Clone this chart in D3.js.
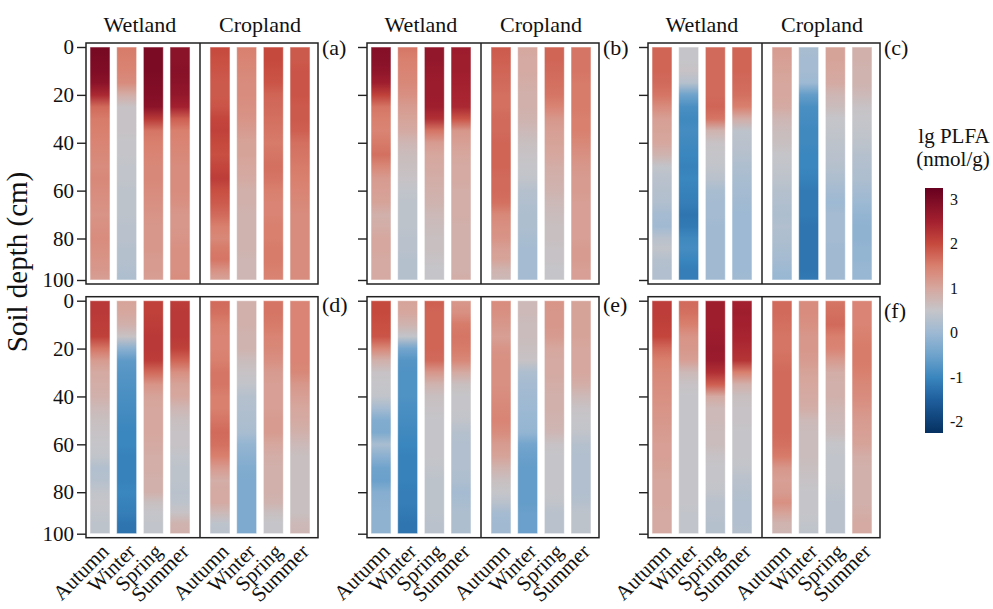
<!DOCTYPE html>
<html>
<head>
<meta charset="utf-8">
<title>lg PLFA by soil depth</title>
<style>
  body { margin: 0; background: #fff; }
  svg { display: block; font-family: "Liberation Serif", "Times New Roman", serif; }
</style>
</head>
<body>
<script src="https://cdn.jsdelivr.net/npm/d3@7"></script>
<svg id="chart" width="993" height="609"></svg>
<script>

// categories
var seasons = ["Autumn", "Winter", "Spring", "Summer"];
var landUses = ["Wetland", "Cropland"];
var panelNames = ["(a)", "(b)", "(c)", "(d)", "(e)", "(f)"];
var depths = [0, 5, 10, 15, 20, 25, 30, 35, 40, 45, 50, 55, 60, 65, 70, 75, 80, 85, 90, 95, 100];
var depthTicks = [0, 20, 40, 60, 80, 100];
var legendTicks = [3, 2, 1, 0, -1, -2];

// colour scale (lg PLFA)
var colorStops = [-2.25, -1.5, -1, -0.5, 0, 0.5, 1, 1.5, 2, 2.5, 3.25];
var colorRange = ["#053061", "#1f5f9e", "#3a86be", "#6fa3cc", "#9db9d3", "#c5c5c9",
                  "#d6a79e", "#d9806f", "#c6493d", "#a3202f", "#67001f"];

// each panel: 8 columns (Wetland Autumn..Summer, Cropland Autumn..Summer), values per depth
var panelA = [
  [3.05,3.0,2.95,2.8,2.4,1.7,1.55,1.5,1.45,1.4,1.35,1.4,1.35,1.3,1.25,1.3,1.35,1.3,1.25,1.2,1.1],
  [1.55,1.5,1.45,1.35,0.9,0.55,0.55,0.55,0.5,0.5,0.45,0.45,0.4,0.4,0.4,0.35,0.35,0.3,0.3,0.25,0.2],
  [3.0,3.0,3.0,2.95,2.9,2.8,2.2,1.6,1.5,1.45,1.4,1.4,1.35,1.3,1.25,1.2,1.2,1.2,1.15,1.15,1.1],
  [2.8,2.8,2.85,2.8,2.7,2.5,1.8,1.5,1.45,1.4,1.35,1.35,1.35,1.3,1.2,1.2,1.25,1.3,1.3,1.3,1.35],
  [2.0,1.95,1.9,1.85,1.85,1.9,2.05,2.1,2.0,1.95,2.05,2.15,1.95,1.85,1.7,1.5,1.4,1.55,1.6,1.3,1.05],
  [1.5,1.45,1.4,1.35,1.35,1.3,1.25,1.15,1.05,1.05,1.0,0.95,0.85,0.85,0.8,0.8,0.8,0.8,0.75,0.75,0.75],
  [2.0,2.0,1.95,1.9,1.75,1.7,1.65,1.6,1.55,1.6,1.65,1.6,1.5,1.45,1.45,1.5,1.5,1.55,1.55,1.5,1.45],
  [1.85,1.85,1.9,1.9,1.9,1.85,1.85,1.8,1.65,1.6,1.55,1.5,1.45,1.4,1.35,1.35,1.35,1.35,1.35,1.35,1.35]
];
var panelB = [
  [2.9,2.85,2.75,2.55,2.1,1.6,1.5,1.45,1.55,1.65,1.4,1.15,1.1,1.05,0.85,0.9,1.0,1.0,0.95,0.95,0.95],
  [1.6,1.5,1.45,1.4,1.3,1.15,1.05,0.95,0.75,0.65,0.6,0.55,0.45,0.4,0.4,0.4,0.35,0.35,0.3,0.3,0.3],
  [2.7,2.7,2.65,2.6,2.6,2.55,2.3,1.6,1.15,1.0,0.95,0.9,0.85,0.8,0.7,0.65,0.6,0.6,0.55,0.5,0.5],
  [2.6,2.55,2.55,2.5,2.45,2.4,1.9,1.2,1.1,1.0,0.95,0.95,0.9,0.9,0.9,0.85,0.85,0.85,0.85,0.85,0.9],
  [1.85,1.8,1.75,1.7,1.65,1.65,1.7,1.7,1.75,1.75,1.75,1.7,1.7,1.65,1.4,1.3,1.25,1.1,1.05,0.8,0.7],
  [1.0,0.95,0.95,0.9,0.85,0.85,0.8,0.7,0.6,0.55,0.5,0.45,0.3,0.25,0.2,0.2,0.15,0.1,0.1,0.1,0.1],
  [1.75,1.75,1.7,1.65,1.6,1.45,1.2,1.1,1.05,1.0,0.9,0.85,0.8,0.7,0.65,0.6,0.6,0.55,0.55,0.5,0.5],
  [1.6,1.6,1.6,1.55,1.55,1.55,1.5,1.5,1.4,1.3,1.2,1.15,1.15,1.1,1.1,1.1,1.1,1.15,1.15,1.1,1.1]
];
var panelC = [
  [1.75,1.75,1.75,1.7,1.6,1.35,1.1,1.05,1.0,0.8,0.45,0.35,0.3,0.25,0.1,0.05,0.35,0.45,0.3,0.25,0.25],
  [0.5,0.5,0.55,0.3,-0.5,-0.85,-0.95,-0.9,-0.95,-1.0,-1.05,-1.0,-1.05,-1.1,-1.2,-1.15,-0.95,-0.9,-1.0,-1.1,-1.1],
  [1.7,1.7,1.7,1.7,1.7,1.75,1.6,0.8,0.55,0.5,0.45,0.35,0.15,0.1,0.1,0.05,0.05,0.05,0.05,0.05,0.05],
  [1.75,1.75,1.75,1.7,1.65,1.5,0.9,0.4,0.35,0.3,0.2,0.15,0.1,0.05,0.0,0.0,0.0,0.0,0.0,0.0,0.05],
  [1.15,1.1,1.05,1.0,1.0,0.95,0.75,0.65,0.6,0.5,0.45,0.4,0.3,0.25,0.2,0.25,0.2,0.15,0.1,0.0,-0.05],
  [0.15,0.1,0.1,0.0,-0.6,-0.85,-0.9,-0.95,-0.95,-1.0,-1.0,-1.05,-1.15,-1.15,-1.15,-1.2,-1.2,-1.2,-1.2,-1.2,-1.15],
  [1.05,1.05,1.0,0.95,0.75,0.65,0.5,0.45,0.4,0.35,0.3,0.2,0.1,0.0,0.1,0.1,0.1,0.05,0.05,0.05,0.05],
  [0.85,0.85,0.8,0.8,0.7,0.55,0.5,0.45,0.4,0.3,0.25,0.2,0.1,0.0,-0.1,-0.15,-0.15,-0.1,-0.1,-0.05,-0.05]
];
var panelD = [
  [2.2,2.2,2.15,2.1,1.6,1.15,0.95,0.9,0.85,0.7,0.6,0.55,0.5,0.45,0.25,0.3,0.45,0.5,0.45,0.4,0.4],
  [1.05,1.0,0.85,0.55,-0.2,-0.65,-0.75,-0.8,-0.85,-0.9,-0.95,-1.0,-1.0,-1.05,-1.05,-1.05,-1.0,-1.05,-1.1,-1.2,-1.25],
  [2.1,2.1,2.15,2.2,2.2,2.15,1.7,1.25,1.05,1.0,1.0,1.0,0.95,0.9,0.9,0.85,0.85,0.6,0.5,0.45,0.45],
  [2.15,2.2,2.2,2.2,2.1,1.75,1.3,1.05,1.0,0.75,0.6,0.55,0.55,0.45,0.4,0.4,0.35,0.4,0.55,0.8,0.85],
  [1.7,1.65,1.5,1.45,1.45,1.5,1.6,1.6,1.5,1.5,1.6,1.7,1.65,1.5,1.15,0.9,0.95,0.95,0.7,0.4,0.35],
  [0.85,0.85,0.85,0.8,0.8,0.65,0.55,0.45,0.3,0.25,0.2,0.15,-0.1,-0.2,-0.3,-0.35,-0.35,-0.35,-0.35,-0.35,-0.35],
  [1.6,1.6,1.55,1.45,1.4,1.3,1.15,1.1,1.1,1.1,1.15,1.15,1.0,0.9,0.85,0.85,0.85,0.8,0.6,0.5,0.5],
  [1.45,1.45,1.45,1.45,1.45,1.45,1.4,1.2,1.1,1.0,0.95,0.85,0.7,0.6,0.6,0.6,0.6,0.6,0.6,0.7,0.75]
];
var panelE = [
  [2.0,2.0,1.95,1.9,1.4,0.85,0.55,0.5,0.45,0.1,-0.3,-0.35,0.15,-0.2,-0.5,-0.55,-0.25,-0.2,-0.15,-0.15,-0.15],
  [1.05,1.0,0.8,0.45,-0.45,-0.75,-0.8,-0.8,-0.8,-0.85,-0.9,-0.95,-1.0,-1.05,-1.05,-1.05,-1.1,-1.1,-1.15,-1.2,-1.2],
  [1.8,1.75,1.75,1.75,1.75,1.7,1.2,0.8,0.6,0.55,0.5,0.5,0.5,0.5,0.45,0.4,0.4,0.4,0.4,0.35,0.35],
  [1.2,1.3,1.55,1.6,1.55,1.4,0.95,0.6,0.5,0.5,0.45,0.3,0.25,0.25,0.25,0.2,0.1,0.15,0.2,0.2,0.2],
  [1.35,1.3,1.2,1.1,1.25,1.3,1.3,1.3,1.35,1.4,1.45,1.35,1.15,1.05,0.8,0.6,0.5,0.35,0.1,0.05,0.05],
  [0.7,0.7,0.65,0.65,0.6,0.55,0.2,0.1,0.05,0.0,-0.05,-0.1,-0.45,-0.55,-0.6,-0.6,-0.6,-0.6,-0.55,-0.55,-0.55],
  [1.25,1.2,1.2,1.15,1.0,0.95,0.95,0.9,0.85,0.85,0.8,0.75,0.55,0.5,0.5,0.5,0.5,0.45,0.35,0.35,0.35],
  [1.05,1.05,1.05,1.05,1.0,1.0,1.0,0.9,0.7,0.55,0.5,0.45,0.3,0.25,0.25,0.25,0.25,0.3,0.4,0.4,0.4]
];
var panelF = [
  [2.15,2.15,2.1,2.05,1.7,1.5,1.4,1.35,1.3,1.25,1.2,1.15,1.1,1.1,1.05,1.0,1.0,1.0,0.95,0.95,0.95],
  [1.7,1.65,1.5,1.25,1.2,1.1,0.7,0.55,0.5,0.5,0.5,0.5,0.5,0.5,0.5,0.5,0.5,0.5,0.45,0.45,0.45],
  [2.55,2.55,2.55,2.6,2.65,2.6,2.3,1.8,0.95,0.7,0.7,0.65,0.65,0.55,0.5,0.5,0.45,0.35,0.35,0.3,0.3],
  [2.5,2.55,2.5,2.45,2.35,2.25,1.5,0.85,0.6,0.55,0.55,0.5,0.5,0.5,0.45,0.35,0.3,0.25,0.25,0.25,0.3],
  [1.7,1.7,1.65,1.6,1.6,1.65,1.7,1.7,1.7,1.7,1.7,1.7,1.65,1.55,1.2,1.1,1.15,1.3,1.05,0.8,0.75],
  [1.35,1.35,1.3,1.2,1.2,1.15,1.05,1.0,0.95,0.9,0.7,0.65,0.65,0.65,0.6,0.55,0.5,0.5,0.5,0.45,0.4],
  [1.6,1.65,1.7,1.5,1.45,1.15,0.9,0.85,0.85,0.75,0.7,0.65,0.5,0.45,0.45,0.45,0.4,0.35,0.35,0.35,0.35],
  [1.45,1.45,1.45,1.5,1.55,1.55,1.5,1.4,1.35,1.25,1.15,1.1,1.05,0.9,0.85,0.85,0.85,0.85,0.9,0.95,0.95]
];

var panels = [panelA, panelB, panelC, panelD, panelE, panelF];

// layout
var panelLeft = [86, 367, 648];
var rowTop = [47, 300.7];
var panelW = 232;
var labelDy = [12, 12, 12, 15, 15, 21];
var ink = "#222";

var svg = d3.select("#chart");
var defs = svg.append("defs");

var color = d3.scaleLinear().domain(colorStops).range(colorRange).clamp(true);

// x positions: two facets of 4 seasons, gap between them
var colPos = [1, 2, 3, 4, 5.5, 6.5, 7.5, 8.5];
var x = d3.scaleLinear().domain([0.475, 9.175]).range([0, panelW]);
var stripW = x(1.75) - x(1);
var y = d3.scaleLinear().domain([0, 80, 100]).range([0, 191.5, 233]);

panels.forEach(function(data, i) {
  var row = Math.floor(i / 3), col = i % 3;
  var g = svg.append("g")
    .attr("transform", "translate(" + panelLeft[col] + "," + rowTop[row] + ")");

  data.forEach(function(vals, j) {
    var id = "grad" + i + "_" + j;
    defs.append("linearGradient")
      .attr("id", id)
      .attr("x1", 0).attr("y1", 0).attr("x2", 0).attr("y2", 1)
      .selectAll("stop")
      .data(vals)
      .join("stop")
      .attr("offset", function(v, k) { return y(depths[k]) / y(100); })
      .attr("stop-color", function(v) { return color(v); });

    g.append("rect")
      .attr("x", x(colPos[j]) - stripW / 2)
      .attr("y", y(0))
      .attr("width", stripW)
      .attr("height", y(100) - y(0))
      .attr("fill", "url(#" + id + ")")
      .attr("stroke", "#fff")
      .attr("stroke-opacity", 0.55)
      .attr("stroke-width", 1);
  });

  // frame + facet divider
  g.append("rect")
    .attr("x", 0).attr("y", y(0) - 4)
    .attr("width", panelW).attr("height", y(100) - y(0) + 8)
    .attr("fill", "none").attr("stroke", ink).attr("stroke-width", 1.5);
  g.append("line")
    .attr("x1", x(4.75)).attr("x2", x(4.75))
    .attr("y1", y(0) - 4).attr("y2", y(100) + 4)
    .attr("stroke", ink).attr("stroke-width", 1.5);

  // depth axis
  var ax = g.append("g")
    .call(d3.axisLeft(y).tickValues(depthTicks).tickSize(9).tickPadding(3)
      .tickFormat(col === 0 ? function(d) { return d; } : ""));
  ax.select(".domain").remove();
  ax.selectAll("line").attr("stroke", ink).attr("stroke-width", 1.4);
  ax.selectAll("text")
    .attr("fill", "#111")
    .style("font-family", "Liberation Serif")
    .style("font-size", "21px");

  // panel label
  g.append("text")
    .attr("x", panelW + 4)
    .attr("y", y(0) - 4 + labelDy[i])
    .attr("fill", "#111")
    .style("font-size", "22px")
    .text(panelNames[i]);

  // facet headers on the top row
  if (row === 0) {
    g.selectAll(".facet")
      .data(landUses)
      .join("text")
      .attr("class", "facet")
      .attr("x", function(d, k) { return x(k === 0 ? 2.5 : 7); })
      .attr("y", -15)
      .attr("text-anchor", "middle")
      .attr("fill", "#111")
      .style("font-size", "22px")
      .text(function(d) { return d; });
  }

  // season labels on the bottom row
  if (row === 1) {
    g.selectAll(".season")
      .data(colPos)
      .join("text")
      .attr("class", "season")
      .attr("transform", function(p) {
        return "translate(" + x(p) + "," + (y(100) + 9) + ") rotate(-45)";
      })
      .attr("dy", "0.68em")
      .attr("text-anchor", "end")
      .attr("fill", "#111")
      .style("font-size", "21px")
      .text(function(p, k) { return seasons[k % 4]; });
  }
});

// y title
svg.append("text")
  .attr("transform", "translate(27,262) rotate(-90)")
  .attr("text-anchor", "middle")
  .attr("fill", "#111")
  .style("font-size", "29px")
  .text("Soil depth (cm)");

// colour bar
var ly = d3.scaleLinear().domain([-2.25, 3.25]).range([433, 188]);
defs.append("linearGradient")
  .attr("id", "legendGrad")
  .attr("x1", 0).attr("y1", 0).attr("x2", 0).attr("y2", 1)
  .selectAll("stop")
  .data(colorStops.slice().reverse())
  .join("stop")
  .attr("offset", function(s) { return (ly(s) - 188) / (433 - 188); })
  .attr("stop-color", function(s) { return color(s); });

svg.append("rect")
  .attr("x", 925).attr("y", 188)
  .attr("width", 18).attr("height", 245)
  .attr("fill", "url(#legendGrad)");

var lax = svg.append("g")
  .attr("transform", "translate(943,0)")
  .call(d3.axisRight(ly).tickValues(legendTicks).tickSize(0).tickPadding(7)
    .tickFormat(function(d) { return String(d); }));
lax.select(".domain").remove();
lax.selectAll("text")
  .attr("fill", "#111")
  .style("font-family", "Liberation Serif")
  .style("font-size", "16px");

svg.append("text")
  .attr("x", 954).attr("y", 143)
  .attr("text-anchor", "middle")
  .attr("fill", "#111")
  .style("font-size", "21px")
  .text("lg PLFA");
svg.append("text")
  .attr("x", 953).attr("y", 166)
  .attr("text-anchor", "middle")
  .attr("fill", "#111")
  .style("font-size", "21px")
  .text("(nmol/g)");

</script>
</body>
</html>
